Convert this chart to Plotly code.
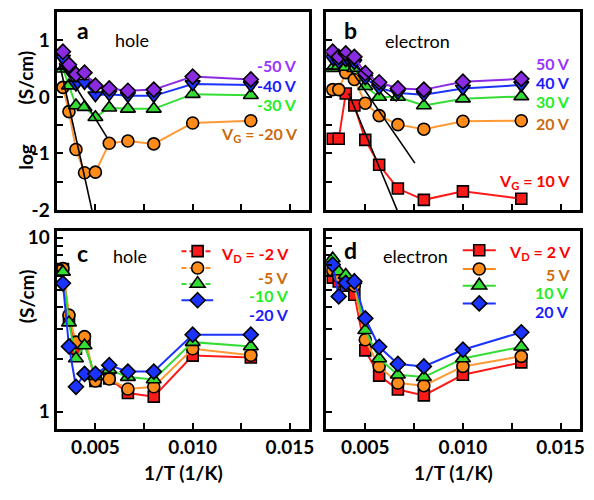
import plotly.graph_objects as go
import math

# ---------------- data ----------------
inv_T = [0.00333, 0.00364, 0.00400, 0.00444, 0.00500, 0.00571, 0.00667, 0.00800, 0.01000, 0.01299]

# panel a: hole, log10(sigma), gate voltages
a_labels = ["-20 V", "-30 V", "-40 V", "-50 V"]
a_vg_m20 = [0.17, -0.26, -0.93, -1.34, -1.33, -0.82, -0.78, -0.83, -0.46, -0.42]
a_vg_m30 = [0.50, 0.20, -0.15, -0.18, -0.36, -0.19, -0.21, -0.21, 0.05, 0.03]
a_vg_m40 = [0.68, 0.48, 0.22, 0.25, 0.03, 0.05, 0.02, 0.02, 0.23, 0.21]
a_vg_m50 = [0.80, 0.57, 0.40, 0.43, 0.20, 0.15, 0.11, 0.13, 0.36, 0.31]
a_fit1_x = [0.00315, 0.00482]
a_fit1_y = [0.60, -2.00]
a_fit2_x = [0.00315, 0.00560]
a_fit2_y = [0.65, -0.72]

# panel b: electron, log10(sigma)
b_labels = ["10 V", "20 V", "30 V", "40 V", "50 V"]
b_vg_10 = [-0.74, -0.74, 0.06, -0.15, -0.76, -1.20, -1.62, -1.82, -1.67, -1.80]
b_vg_20 = [0.13, 0.13, 0.43, 0.31, -0.11, -0.33, -0.49, -0.57, -0.43, -0.42]
b_vg_30 = [0.51, 0.55, 0.53, 0.51, 0.19, 0.00, 0.00, -0.15, -0.03, 0.01]
b_vg_40 = [0.68, 0.62, 0.65, 0.60, 0.33, 0.16, 0.07, 0.04, 0.15, 0.21]
b_vg_50 = [0.80, 0.71, 0.77, 0.71, 0.42, 0.26, 0.15, 0.13, 0.27, 0.32]
b_fit1_x = [0.00415, 0.00663]
b_fit1_y = [0.06, -2.00]
b_fit2_x = [0.00356, 0.00754]
b_fit2_y = [0.83, -1.17]
b_fit3_x = [0.00365, 0.00661]
b_fit3_y = [0.80, -0.08]

# panel c: hole, sigma (S/cm), drain voltages
c_labels = ["-2 V", "-5 V", "-10 V", "-20 V"]
c_vd_m2 = [6.6, 3.4, 2.3, 2.6, 1.50, 1.55, 1.28, 1.22, 2.10, 2.05]
c_vd_m5 = [6.64, 3.59, 2.51, 2.70, 1.50, 1.54, 1.35, 1.39, 2.30, 2.11]
c_vd_m10 = [6.36, 3.25, 2.02, 2.40, 1.60, 1.74, 1.58, 1.53, 2.51, 2.37]
c_vd_m20 = [5.47, 2.37, 1.39, 1.65, 1.65, 1.85, 1.70, 1.70, 2.77, 2.77]

# panel d: electron, sigma (S/cm)
d_labels = ["2 V", "5 V", "10 V", "20 V"]
d_vd_2 = [5.9, 5.6, 5.3, 4.7, 2.25, 1.61, 1.34, 1.24, 1.63, 1.92]
d_vd_5 = [6.5, 6.0, 5.8, 5.3, 2.59, 1.82, 1.46, 1.41, 1.82, 2.08]
d_vd_10 = [7.6, 6.4, 6.1, 5.7, 2.94, 2.02, 1.63, 1.58, 2.02, 2.36]
d_vd_20 = [7.0, 4.6, 5.5, 5.6, 3.44, 2.36, 1.88, 1.82, 2.27, 2.86]

x_tickvals = [0.005, 0.010, 0.015]
x_ticktext = ["0.005", "0.010", "0.015"]
x_minor = [0.0075, 0.0125]
top_tickvals = [-2, -1, 0, 1]
top_ticktext = ["-2", "-1", "0", "1"]
top_minor = [-1.5, -0.5, 0.5, 1.5]
bot_tickvals = [1, 10]
bot_ticktext = ["1", "10"]
bot_minor = [2, 3, 4, 5, 6, 7, 8, 9]

# ---------------- style ----------------
FONT = "Lato"
RED, ORANGE, GREEN, BLUE, PURPLE = "#ff1a1a", "#ff8c1a", "#33dd33", "#1a33ff", "#8a2be2"
RED_T, ORANGE_T, GREEN_T, BLUE_T, PURPLE_T = "#ff0000", "#cc6a10", "#22ee22", "#1a1aff", "#9933ff"
W, H = 594, 500


def xp(px):
    return px / W


def yp(py):
    return 1 - py / H


fig = go.Figure()

sym = {"sq": ("square", 11), "ci": ("circle", 12), "tu": ("triangle-up", 13),
       "td": ("triangle-down", 13), "di": ("diamond", 11.5)}


def series(x, y, color, s, xa, ya, name, lcolor=None):
    msym, size = sym[s]
    fig.add_trace(go.Scatter(
        x=x, y=y, xaxis=xa, yaxis=ya, mode="lines+markers", showlegend=False, name=name,
        line=dict(color=lcolor or color, width=2),
        marker=dict(symbol=msym, size=size, color=color, line=dict(color="black", width=1.6)),
    ))


def fit(x, y, xa, ya):
    fig.add_trace(go.Scatter(x=x, y=y, xaxis=xa, yaxis=ya, mode="lines", showlegend=False,
                             line=dict(color="black", width=1.6)))


# panel a
series(inv_T, a_vg_m20, ORANGE, "ci", "x", "y", a_labels[0], "#ff9933")
series(inv_T, a_vg_m30, GREEN, "tu", "x", "y", a_labels[1])
series(inv_T, a_vg_m40, BLUE, "td", "x", "y", a_labels[2])
series(inv_T, a_vg_m50, PURPLE, "di", "x", "y", a_labels[3])
fit(a_fit1_x, a_fit1_y, "x", "y")
fit(a_fit2_x, a_fit2_y, "x", "y")

# panel b
series(inv_T, b_vg_10, RED, "sq", "x2", "y2", b_labels[0])
series(inv_T, b_vg_20, ORANGE, "ci", "x2", "y2", b_labels[1], "#ff9933")
series(inv_T, b_vg_30, GREEN, "tu", "x2", "y2", b_labels[2])
series(inv_T, b_vg_40, BLUE, "td", "x2", "y2", b_labels[3])
series(inv_T, b_vg_50, PURPLE, "di", "x2", "y2", b_labels[4])
fit(b_fit1_x, b_fit1_y, "x2", "y2")
fit(b_fit2_x, b_fit2_y, "x2", "y2")
fit(b_fit3_x, b_fit3_y, "x2", "y2")

# panel c
series(inv_T, c_vd_m2, RED, "sq", "x3", "y3", c_labels[0])
series(inv_T, c_vd_m5, ORANGE, "ci", "x3", "y3", c_labels[1], "#ff9933")
series(inv_T, c_vd_m10, GREEN, "tu", "x3", "y3", c_labels[2])
series(inv_T, c_vd_m20, BLUE, "di", "x3", "y3", c_labels[3])

# panel d
series(inv_T, d_vd_2, RED, "sq", "x4", "y4", d_labels[0])
series(inv_T, d_vd_5, ORANGE, "ci", "x4", "y4", d_labels[1], "#ff9933")
series(inv_T, d_vd_10, GREEN, "tu", "x4", "y4", d_labels[2])
series(inv_T, d_vd_20, BLUE, "di", "x4", "y4", d_labels[3])

# ---------------- legend keys drawn as layout shapes ----------------
shapes = []


def key(cx, cy, x0, x1, color, s, dash):
    shapes.append(dict(type="line", xref="paper", yref="paper", x0=xp(x0), x1=xp(x1),
                       y0=yp(cy), y1=yp(cy), line=dict(color=color, width=2, dash=dash)))
    base = dict(xref="paper", yref="paper", xsizemode="pixel", ysizemode="pixel",
                xanchor=xp(cx), yanchor=yp(cy), fillcolor=color,
                line=dict(color="black", width=1.6))
    if s == "sq":
        shapes.append(dict(type="rect", x0=-5.5, x1=5.5, y0=-5.5, y1=5.5, **base))
    elif s == "ci":
        shapes.append(dict(type="circle", x0=-6, x1=6, y0=-6, y1=6, **base))
    elif s == "tu":
        shapes.append(dict(type="path", path="M-7.5,-3.25 L7.5,-3.25 L0,7.5 Z", **base))
    else:
        shapes.append(dict(type="path", path="M0,7.5 L7.5,0 L0,-7.5 L-7.5,0 Z", **base))


DASH = "5px,3px"
key(199.3, 254.3, 183, 215, RED, "sq", DASH)
key(199.3, 271.7, 183, 215, ORANGE, "ci", DASH)
key(199.3, 288.3, 183, 215, GREEN, "tu", DASH)
key(199.3, 305.0, 183, 215, BLUE, "di", "solid")
key(483.3, 253.3, 466.7, 500, RED, "sq", "solid")
key(483.3, 272.7, 466.7, 500, ORANGE, "ci", "solid")
key(483.3, 290.0, 466.7, 500, GREEN, "tu", "solid")
key(483.3, 308.3, 466.7, 500, BLUE, "di", "solid")

# ---------------- axes ----------------
xdomA = [xp(57), xp(312)]
xdomB = [xp(329), xp(585)]
ydomT = [yp(211.8), yp(7.4)]
ydomB = [yp(437.5), yp(233)]
tickfont = dict(family=FONT, size=19, color="black", weight="bold")
common = dict(showline=True, linewidth=3, linecolor="black", mirror=True, showgrid=False,
              zeroline=False, ticks="inside", ticklen=6, tickwidth=2, tickcolor="black",
              tickfont=tickfont, tickmode="array")


def minor(vals):
    return dict(tickmode="array", tickvals=vals, ticks="inside", ticklen=6, tickwidth=2,
                tickcolor="black", showgrid=False)


fig.update_layout(
    width=W, height=H, margin=dict(l=0, r=0, t=0, b=0),
    paper_bgcolor="white", plot_bgcolor="white", showlegend=False,
    font=dict(family=FONT, color="black"),
    shapes=shapes,
    xaxis=dict(domain=xdomA, anchor="y", range=[0.003, 0.016], tickvals=x_tickvals,
               showticklabels=False, minor=minor(x_minor), **common),
    yaxis=dict(domain=ydomT, anchor="x", range=[-2, 1.5], tickvals=top_tickvals,
               ticktext=top_ticktext, minor=minor(top_minor), **common),
    xaxis2=dict(domain=xdomB, anchor="y2", range=[0.003, 0.016], tickvals=x_tickvals,
                showticklabels=False, minor=minor(x_minor), **common),
    yaxis2=dict(domain=ydomT, anchor="x2", range=[-2, 1.5], tickvals=top_tickvals,
                showticklabels=False, minor=minor(top_minor), **common),
    xaxis3=dict(domain=xdomA, anchor="y3", range=[0.003, 0.016], tickvals=x_tickvals,
                ticktext=x_ticktext, minor=minor(x_minor), **common),
    yaxis3=dict(domain=ydomB, anchor="x3", type="log", range=[math.log10(0.8), math.log10(11)],
                tickvals=bot_tickvals, ticktext=bot_ticktext, minor=minor(bot_minor), **common),
    xaxis4=dict(domain=xdomB, anchor="y4", range=[0.003, 0.016], tickvals=x_tickvals,
                ticktext=x_ticktext, minor=minor(x_minor), **common),
    yaxis4=dict(domain=ydomB, anchor="x4", type="log", range=[math.log10(0.8), math.log10(11)],
                tickvals=bot_tickvals, showticklabels=False, minor=minor(bot_minor), **common),
)

# ---------------- text ----------------
ann = []


def text(t, px, py, size=16, color="black", bold=True, xanchor="center", angle=0):
    ann.append(dict(text=t, x=xp(px), y=yp(py), xref="paper", yref="paper", showarrow=False,
                    xanchor=xanchor, yanchor="middle", textangle=angle,
                    font=dict(family=FONT, size=size, color=color,
                              weight="bold" if bold else "normal")))


text("a", 84, 26, 23)
text("hole", 133, 36, 18, bold=False)
text("b", 353, 26, 23)
text("electron", 421, 37, 18, bold=False)
text("c", 83, 256, 23)
text("hole", 131, 259, 18, bold=False)
text("d", 353, 253, 23)
text("electron", 419, 259, 18, bold=False)

text(a_labels[3], 302, 63, color=PURPLE_T, xanchor="right")
text(a_labels[2], 302, 83, color=BLUE_T, xanchor="right")
text(a_labels[1], 302, 103, color=GREEN_T, xanchor="right")
text("V<sub>G</sub> = " + a_labels[0], 303, 134, color=ORANGE_T, xanchor="right")

text(b_labels[4], 577, 60, color=PURPLE_T, xanchor="right")
text(b_labels[3], 577, 80, color=BLUE_T, xanchor="right")
text(b_labels[2], 577, 100, color=GREEN_T, xanchor="right")
text(b_labels[1], 577, 122, color=ORANGE_T, xanchor="right")
text("V<sub>G</sub> = " + b_labels[0], 577, 182, color=RED_T, xanchor="right")

text("V<sub>D</sub> = " + c_labels[0], 293, 258, color=RED_T, xanchor="right")
text(c_labels[1], 293, 281, color=ORANGE_T, xanchor="right")
text(c_labels[2], 293, 300.5, color=GREEN_T, xanchor="right")
text(c_labels[3], 293, 320, color=BLUE_T, xanchor="right")

text("V<sub>D</sub> = " + d_labels[0], 578, 256, color=RED_T, xanchor="right")
text(d_labels[1], 578, 278, color=ORANGE_T, xanchor="right")
text(d_labels[2], 576, 297.5, color=GREEN_T, xanchor="right")
text(d_labels[3], 576, 317, color=BLUE_T, xanchor="right")

text("(S/cm)", 26, 75, 19, angle=-90)
text("log", 26, 157, 19, angle=-90)
text("(S/cm)", 27, 301, 19, angle=-90)
text("1/T (1/K)", 185, 483, 19)
text("1/T (1/K)", 457, 483, 19)

fig.update_layout(annotations=ann)
fig.write_html("out.html", config={"displayModeBar": False, "displaylogo": False})
